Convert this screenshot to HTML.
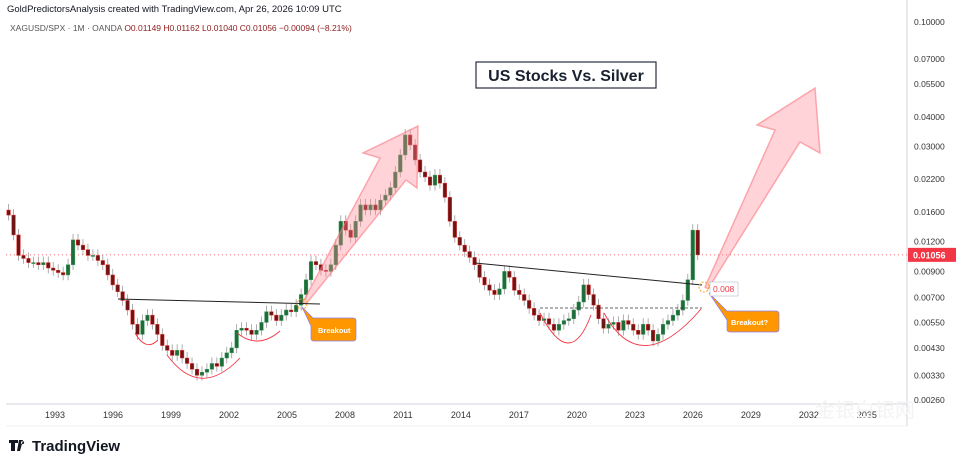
<!DOCTYPE html>
<html><head><meta charset="utf-8">
<style>
body{margin:0;background:#fff;width:964px;height:466px;overflow:hidden;font-family:"Liberation Sans",sans-serif}
svg{display:block}
</style></head>
<body>
<svg id="c" width="964" height="466" viewBox="0 0 964 466">
<rect x="6" y="14" width="901" height="412" fill="#fff"/>
<g id="grid"></g>
<g id="price-line"></g>
<g id="candles"></g>
<g id="annot"></g>
<text x="7" y="12" font-size="9.5" fill="#131722">GoldPredictorsAnalysis created with TradingView.com, Apr 26, 2026 10:09 UTC</text>
<text x="10" y="31" font-size="8.5" fill="#555">XAGUSD/SPX · 1M · OANDA <tspan fill="#8b1a1a">O0.01149 H0.01162 L0.01040 C0.01056 −0.00094 (−8.21%)</tspan></text>
<g>
<path d="M9 440h9v3h-3v8h-4v-8h-2z M19 440h4l-3 11h-3z M22.5 441a1.6 1.6 0 1 0 .1 0z" fill="#131722"/>
<text x="32" y="451" font-size="15" font-weight="bold" fill="#131722">TradingView</text>
</g>
<text x="815" y="417" font-size="20" fill="#f3f3f3" font-family="'Liberation Sans','Noto Sans CJK SC',sans-serif">金银白银网</text>
</svg>
<script>
const yTicks=[0.1,0.07,0.055,0.04,0.03,0.022,0.016,0.012,0.009,0.007,0.0055,0.0043,0.0033,0.0026];
const xTicks=[1993,1996,1999,2002,2005,2008,2011,2014,2017,2020,2023,2026,2029,2032,2035];
const startYear=1990.6, endYear=2026.25;
const closes=[0.0155,0.0128,0.0105,0.0102,0.0098,0.0098,0.0096,0.0098,0.0093,0.0091,0.0089,0.0087,0.0096,0.0122,0.0116,0.0111,0.0105,0.0105,0.0100,0.0096,0.0087,0.0079,0.0074,0.0068,0.0062,0.0054,0.0049,0.0056,0.0059,0.0054,0.0049,0.0044,0.0042,0.0040,0.0042,0.0039,0.0037,0.0035,0.0033,0.0034,0.0035,0.0037,0.0036,0.0039,0.0041,0.0043,0.0051,0.0052,0.0051,0.0049,0.0051,0.0055,0.0061,0.0059,0.0056,0.0059,0.0062,0.0061,0.0065,0.0072,0.0083,0.0099,0.0096,0.0091,0.0090,0.0096,0.0116,0.0146,0.0134,0.0125,0.0146,0.0171,0.0163,0.0171,0.0163,0.0179,0.0188,0.0202,0.0235,0.0277,0.0336,0.0305,0.0264,0.0235,0.0224,0.0207,0.0228,0.0211,0.0184,0.0146,0.0125,0.0116,0.0109,0.0103,0.0096,0.0085,0.0079,0.0075,0.0072,0.0076,0.0090,0.0085,0.0075,0.0072,0.0068,0.0063,0.0059,0.0056,0.0057,0.0054,0.0051,0.0054,0.0056,0.0057,0.0062,0.0067,0.0079,0.0072,0.0065,0.0057,0.0052,0.0054,0.0055,0.0051,0.0056,0.0054,0.0051,0.0049,0.0054,0.0051,0.0046,0.0049,0.0054,0.0056,0.0059,0.0062,0.0068,0.0083,0.0134,0.01056];
const lastPrice=0.01056;
const NS="http://www.w3.org/2000/svg";
const L=6,R=907,T=14,B=404;
function yS(v){return 22+(-1-Math.log10(v))*238.5;}
function xS(yr){return 55+(yr-1993)*19.33;}
function mk(tag,attrs,parent){const e=document.createElementNS(NS,tag);for(const k in attrs)e.setAttribute(k,attrs[k]);parent.appendChild(e);return e;}
const grid=document.getElementById('grid');
let e=mk('line',{x1:R,y1:0,x2:R,y2:426,stroke:'#d1d4dc'},grid);


e=mk('line',{x1:L,y1:B,x2:R,y2:B,stroke:'#d1d4dc'},grid);


e=mk('line',{x1:L,y1:426,x2:R,y2:426,stroke:'#eef0f3'},grid);


yTicks.forEach(v=>{const t=mk('text',{x:914,y:yS(v)+3,'font-size':'8.5',fill:'#333'},grid);t.textContent=v.toFixed(5);

});
xTicks.forEach(yr=>{const t=mk('text',{x:xS(yr),y:418,'font-size':'9',fill:'#333','text-anchor':'middle'},grid);t.textContent=yr;

});
const pl=document.getElementById('price-line');
const py=yS(lastPrice);
e=mk('line',{x1:L,y1:py,x2:R,y2:py,stroke:'#f23645','stroke-dasharray':'1,3','stroke-width':'0.8'},pl);


e=mk('rect',{x:R+1,y:py-7,width:48,height:14,fill:'#f23645'},pl);


e=mk('text',{x:R+6,y:py+3.5,'font-size':'9','font-weight':'bold',fill:'#fff'},pl);e.textContent=lastPrice.toFixed(5);


const cg=document.getElementById('candles');
const n=closes.length, step=(endYear-startYear)/(n-1);
for(let i=0;i<n;i++){
  const c=closes[i], o=i?closes[i-1]:c*1.05;
  const hi=Math.max(o,c)*1.06, lo=Math.min(o,c)*0.95;
  const x=xS(startYear+i*step);
  const up=c>=o;
  const g=mk('g',{},cg);
  
  
  mk('line',{x1:x,y1:yS(hi),x2:x,y2:yS(lo),stroke:'#9a9a9a','stroke-width':'0.8'},g);
  const y1=yS(Math.max(o,c)),y2=yS(Math.min(o,c));
  mk('rect',{x:x-1.8,y:y1,width:3.6,height:Math.max(1,y2-y1),fill:up?'#1f6b3a':'#6e1414',stroke:up?'#3a9a5a':'#e03030','stroke-width':'0.5'},g);
}
const an=document.getElementById('annot');
function add(tag,attrs,name){const el=mk(tag,attrs,an);return el;}
add('polygon',{points:'303,302 380,158 363,153 418,126 417,188 406,180 306,304',fill:'rgba(255,140,150,0.38)',stroke:'rgba(250,120,130,0.6)','stroke-width':'1.5'},'arrow-2011');
add('polygon',{points:'705,287 775,130 757,125 815,88 820,153 800,142 708,289',fill:'rgba(255,140,150,0.38)',stroke:'rgba(250,120,130,0.6)','stroke-width':'1.5'},'arrow-projection');
add('line',{x1:118,y1:299,x2:320,y2:304,stroke:'#222','stroke-width':'1'},'neckline-1');
add('line',{x1:475,y1:263,x2:702,y2:285,stroke:'#222','stroke-width':'1'},'neckline-2');
add('line',{x1:540,y1:308,x2:702,y2:308,stroke:'#333','stroke-width':'0.8','stroke-dasharray':'3,2'},'dashed-resistance');
const arcs=[[135,333,146,352,158,340],[167,355,200,400,240,358],[237,333,258,350,280,331],[540,313,570,372,591,315],[604,313,640,380,701,309]];
arcs.forEach(a=>add('path',{d:`M${a[0]},${a[1]} Q${a[2]},${a[3]} ${a[4]},${a[5]}`,fill:'none',stroke:'#f23645','stroke-width':'0.9'},'cup-arc'));
add('circle',{cx:302,cy:304,r:5,fill:'none',stroke:'#f5a623','stroke-dasharray':'2,1.5'},'breakout-circle-1');
add('circle',{cx:704,cy:287,r:5,fill:'none',stroke:'#f5a623','stroke-dasharray':'2,1.5'},'breakout-circle-2');
add('path',{d:'M302,307 L313,318 L353,318 Q356,318 356,321 L356,338 Q356,341 353,341 L314,341 Q311,341 311,338 L311,326 Z',fill:'#ff9800',stroke:'#8a7cf0','stroke-width':'0.7'},'breakout-callout');
let t=add('text',{x:318,y:333,'font-size':'7.5','font-weight':'bold',fill:'#fff'},'breakout-text');t.textContent='Breakout';
add('path',{d:'M709,293 L727,311 L776,311 Q779,311 779,314 L779,329 Q779,332 776,332 L730,332 Q727,332 727,329 L727,320 Z',fill:'#ff9800',stroke:'#8a7cf0','stroke-width':'0.7'},'breakout-question-callout');
t=add('text',{x:731,y:325,'font-size':'7.5','font-weight':'bold',fill:'#fff'},'breakout-question-text');t.textContent='Breakout?';
add('rect',{x:710,y:282,width:28,height:14,fill:'#fff',stroke:'#b0b8c8','stroke-width':'0.6'},'level-label-box');
t=add('text',{x:713,y:292,'font-size':'8.5',fill:'#f23645'},'level-label');t.textContent='0.008';
add('rect',{x:476,y:62,width:180,height:26,fill:'#fff',stroke:'#2a3040','stroke-width':'1.2'},'title-box');
t=add('text',{x:566,y:81,'font-size':'16','font-weight':'bold',fill:'#1a2030','text-anchor':'middle'},'chart-title');t.textContent='US Stocks Vs. Silver';
</script>
</body></html>
